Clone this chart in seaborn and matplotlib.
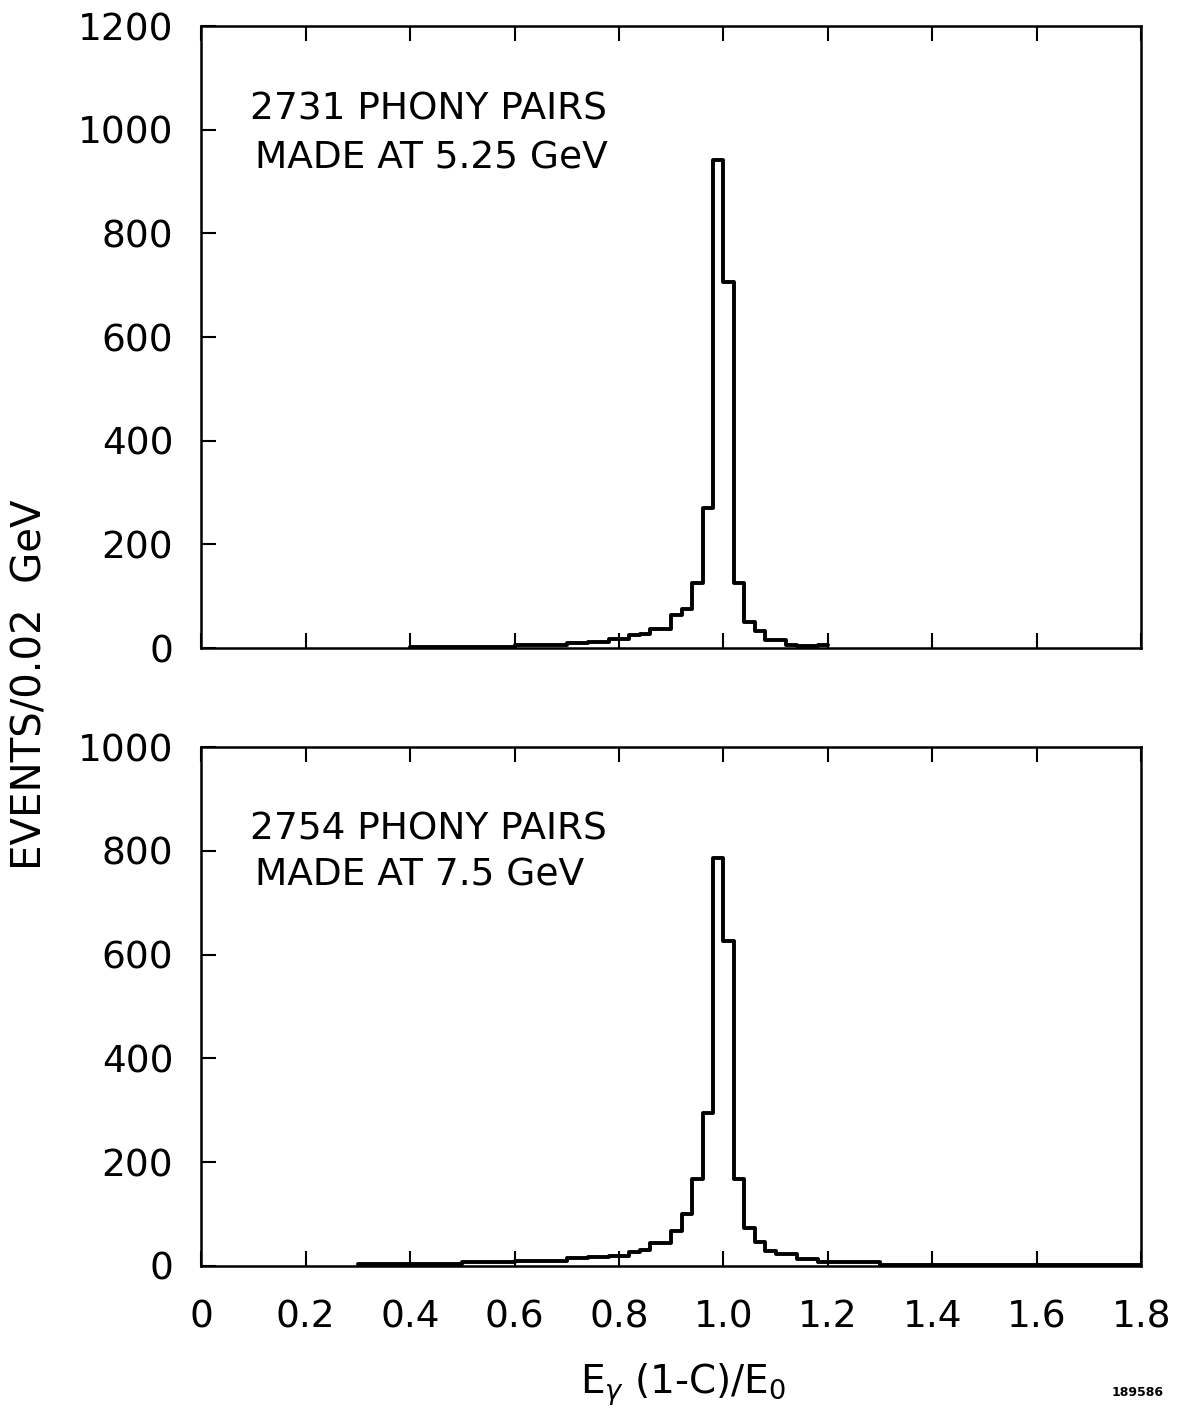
import numpy as np
import pandas as pd
import matplotlib
matplotlib.use("Agg")
import matplotlib.pyplot as plt
import seaborn as sns

# ---------------- data (events per 0.02 bin) ----------------
bin_width = 0.02

top_start = 0.40
top_counts = [2, 2, 2, 2, 2, 2, 2, 2, 2, 2,        # 0.40-0.60
              6, 6, 6, 6, 6,                       # 0.60-0.70
              9, 9, 12, 12, 18, 18,                # 0.70-0.82
              25, 28, 37, 37,                      # 0.82-0.90
              64, 75, 125, 270, 942, 707,          # 0.90-1.02
              126, 51, 33, 16, 16,                 # 1.02-1.12
              5, 4, 4, 6]                          # 1.12-1.20

bot_start = 0.30
bot_counts = [3, 3, 3, 3, 3, 3, 3, 3, 3, 3,        # 0.30-0.50
              7, 7, 7, 7, 7,                       # 0.50-0.60
              10, 10, 10, 10, 10,                  # 0.60-0.70
              15, 15, 18, 18, 20, 20,              # 0.70-0.82
              26, 30, 45, 45, 68, 100,             # 0.82-0.94
              168, 294, 786, 627, 168, 74,         # 0.94-1.06
              46, 28, 23, 23, 13, 13,              # 1.06-1.18
              7, 7, 7, 7, 7, 7,                    # 1.18-1.30
              2, 2, 2, 2, 2, 2, 2, 2, 2, 2,
              2, 2, 2, 2, 2, 2, 2, 2, 2, 2,
              2, 2, 2, 2, 2]                       # 1.30-1.80

top_label = ["2731 PHONY PAIRS", "MADE AT 5.25 GeV"]
bot_label = ["2754 PHONY PAIRS", "MADE AT 7.5 GeV"]
x_ticks = [0, 0.2, 0.4, 0.6, 0.8, 1.0, 1.2, 1.4, 1.6, 1.8]
x_ticklabels = ["0", "0.2", "0.4", "0.6", "0.8", "1.0", "1.2", "1.4", "1.6", "1.8"]
top_yticks = [0, 200, 400, 600, 800, 1000, 1200]
bot_yticks = [0, 200, 400, 600, 800, 1000]


def make_frame(start, counts):
    n = len(counts)
    edges = [round(start + bin_width * i, 4) for i in range(n + 1)]
    centers = [e + bin_width / 2 for e in edges[:-1]]
    return pd.DataFrame({"x": centers, "w": [float(c) for c in counts]}), edges


sns.set_theme(style="white")
plt.rcParams["font.family"] = ["DejaVu Sans"]
plt.rcParams["text.color"] = "black"
plt.rcParams["axes.labelcolor"] = "black"
plt.rcParams["xtick.color"] = "black"
plt.rcParams["ytick.color"] = "black"
plt.rcParams["mathtext.fontset"] = "dejavusans"

FS = 27
W = "normal"
fig = plt.figure(figsize=(11.77, 14.14), dpi=100)
ax1 = fig.add_axes([0.1708, 0.5417, 0.799, 0.4399])
ax2 = fig.add_axes([0.1708, 0.1047, 0.799, 0.367])

for ax, start, counts, ymax, yt, lab, ypos in [
    (ax1, top_start, top_counts, 1200, top_yticks, top_label, (1020, 925)),
    (ax2, bot_start, bot_counts, 1000, bot_yticks, bot_label, (821, 734)),
]:
    df, edges = make_frame(start, counts)
    sns.histplot(data=df, x="x", weights="w", bins=edges, element="step",
                 fill=False, color="black", linewidth=2.8, ax=ax)
    ax.set_xlim(0, 1.8)
    ax.set_ylim(0, ymax)
    ax.set_xticks(x_ticks)
    ax.set_yticks(yt)
    ax.set_yticklabels([str(v) for v in yt], fontsize=FS, fontweight=W,
                       color="black")
    ax.set_xlabel("")
    ax.set_ylabel("")
    for s in ax.spines.values():
        s.set_visible(True)
        s.set_color("black")
        s.set_linewidth(1.8)
    ax.tick_params(axis="both", which="major", direction="in", length=11,
                   width=1.5, color="black", top=True, right=False,
                   bottom=True, left=True)
    ax.tick_params(axis="y", pad=20)
    ax.tick_params(axis="x", pad=24)
    ax.text(0.094, ypos[0], lab[0], fontsize=FS, fontweight=W,
            color="black", ha="left", va="baseline")
    ax.text(0.104, ypos[1], lab[1], fontsize=FS, fontweight=W,
            color="black", ha="left", va="baseline")

ax1.set_xticklabels([])
ax2.set_xticklabels(x_ticklabels, fontsize=FS, fontweight=W, color="black")

fig.text(0.026, 1 - 685 / 1414, "EVENTS/0.02  GeV", rotation=90,
         ha="center", va="center", fontsize=29, fontweight=W, color="black")
fig.text(683 / 1177, 1 - 1385 / 1414,
         r"E$_{\gamma}$ (1-C)/E$_{0}$",
         ha="center", va="center", fontsize=28, fontweight=W, color="black")
fig.text(1138 / 1177, 1 - 1392 / 1414, "189586", ha="center", va="center",
         fontsize=9, fontweight="bold", color="black")

fig.savefig("out.png", dpi=100, facecolor="white")
